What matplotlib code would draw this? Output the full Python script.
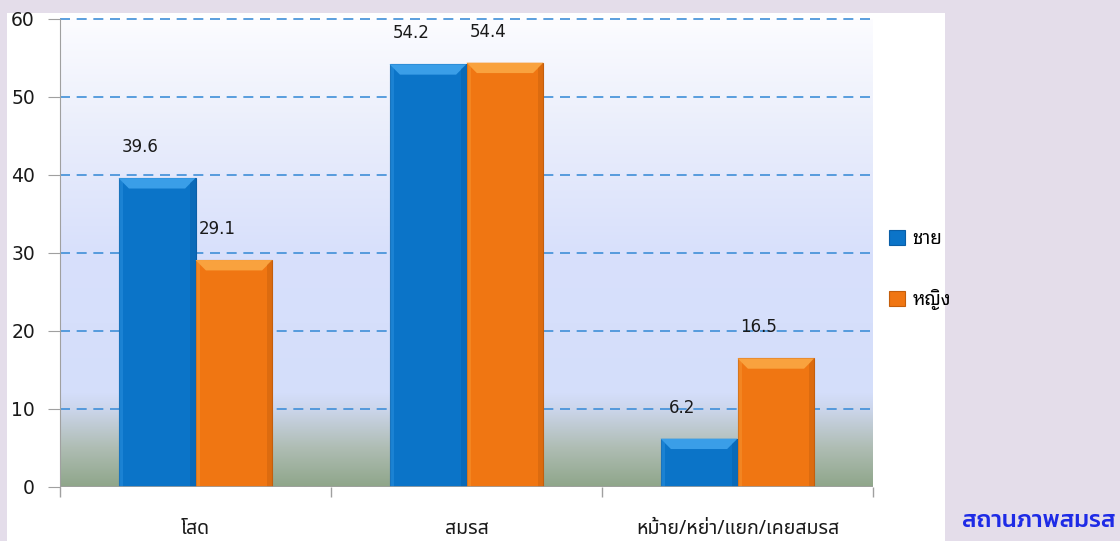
import numpy as np
import matplotlib
matplotlib.use("Agg")
import matplotlib.pyplot as plt
from matplotlib.patches import Rectangle, Polygon
from matplotlib.colors import to_rgb

# ---- data ----
categories = ["โสด", "สมรส", "หม้าย/หย่า/แยก/เคยสมรส"]
series_names = ["ชาย", "หญิง"]
male = [39.6, 54.2, 6.2]
female = [29.1, 54.4, 16.5]
yticks = [0, 10, 20, 30, 40, 50, 60]
title_text = "สถานภาพสมรส"

BLUE = "#0B74C8"
ORANGE = "#F07612"
BLUE_LIGHT = "#3A9EE8"
ORANGE_LIGHT = "#F9A23E"
BLUE_DARK = "#0A5EA6"
ORANGE_DARK = "#C45E0C"

W, H = 1120, 541
fig = plt.figure(figsize=(W / 100, H / 100), dpi=100)
fig.patch.set_facecolor("#E4DDEA")
# white chart panel
fig.patches.append(Rectangle((7 / W, 0), (945 - 7) / W, (H - 13) / H,
                             transform=fig.transFigure, facecolor="white",
                             edgecolor="none", zorder=-10))

ax = fig.add_axes([60 / W, (H - 487) / H, (873 - 60) / W, (487 - 19) / H])
ax.set_zorder(2)
ax.set_facecolor("none")

# gradient background
stops = [(60, "#FCFCFF"), (45, "#E9EDFB"), (30, "#D8E0FC"), (12, "#D4DEFA"),
         (10, "#CCD6EC"), (5, "#AFBDB4"), (0, "#8FA68A")]
vals = np.linspace(60, 0, 300)
sv = [s[0] for s in stops][::-1]
cols = np.array([to_rgb(s[1]) for s in stops])[::-1]
grad = np.stack([np.interp(vals, sv, cols[:, k]) for k in range(3)], axis=-1)
grad = grad[:, None, :]
ax.imshow(grad, extent=[-0.5, 2.5, 0, 60], aspect="auto", zorder=0,
          interpolation="bilinear")

x = np.arange(len(categories))
bw = 0.284
b1 = ax.bar(x - bw / 2, male, bw, color=BLUE, edgecolor=BLUE_DARK, linewidth=0.8,
            zorder=3, label=series_names[0])
b2 = ax.bar(x + bw / 2, female, bw, color=ORANGE, edgecolor=ORANGE_DARK, linewidth=0.8,
            zorder=3, label=series_names[1])

ax.set_xlim(-0.5, 2.5)
ax.set_ylim(0, 60)

# bevel effect derived from bar geometry
fig.canvas.draw()
inv = ax.transData.inverted()
px_x = abs(inv.transform((8, 0))[0] - inv.transform((0, 0))[0])
px_y = abs(inv.transform((0, 8))[1] - inv.transform((0, 0))[1])
for bars, light, dark in [(b1, BLUE_LIGHT, BLUE_DARK), (b2, ORANGE_LIGHT, ORANGE_DARK)]:
    for p in bars:
        x0, w, h = p.get_x(), p.get_width(), p.get_height()
        dy = min(px_y * 1.3, h / 2)
        dx = px_x * 1.3
        ax.add_patch(Polygon([(x0, h), (x0 + w, h), (x0 + w - dx, h - dy), (x0 + dx, h - dy)],
                             closed=True, facecolor=light, edgecolor="none", zorder=4))
        ax.add_patch(Polygon([(x0 + w, h), (x0 + w, 0), (x0 + w - dx * 0.5, 0), (x0 + w - dx * 0.5, h - dy * 0.5)],
                             closed=True, facecolor=dark, edgecolor="none", alpha=0.45, zorder=4))
        ax.add_patch(Polygon([(x0, h), (x0, 0), (x0 + dx * 0.4, 0), (x0 + dx * 0.4, h - dy * 0.4)],
                             closed=True, facecolor=light, edgecolor="none", alpha=0.35, zorder=4))

# value labels
for bars, vals_ in [(b1, male), (b2, female)]:
    for p, v in zip(bars, vals_):
        ax.annotate(f"{v:.1f}", (p.get_x() + p.get_width() / 2, v),
                    xytext=(-17, 31), textcoords="offset pixels",
                    ha="center", va="center", fontsize=12, color="#1A1A1A",
                    family=["DejaVu Sans"], zorder=6)

# grid
ax.set_yticks(yticks)
ax.yaxis.grid(True, linestyle=(0, (6, 4)), color="#3F8FD8", linewidth=1.2, zorder=1)
gls = ax.yaxis.get_gridlines()
for gl in gls:
    gl.set_clip_on(False)
gls[0].set_visible(False)
ax.set_axisbelow(True)
for s in ["top", "right", "bottom"]:
    ax.spines[s].set_visible(False)
ax.spines["left"].set_color("#A0A0A0")
ax.spines["left"].set_zorder(5)
ax.axhline(0, color="#A0A0A0", linewidth=1.2, zorder=5)

ax.tick_params(axis="y", length=9, color="#A0A0A0", labelsize=13.5, pad=9,
               labelcolor="#1A1A1A")
for lab in ax.get_yticklabels():
    lab.set_family(["DejaVu Sans"])

ax.set_xticks(x)
ax.set_xticklabels(categories, family=["Noto Sans Thai", "DejaVu Sans"], fontsize=14,
                   color="#1A1A1A")
ax.tick_params(axis="x", length=0, pad=23)
ax.set_xticks(np.arange(len(categories) + 1) - 0.5, minor=True)
ax.tick_params(axis="x", which="minor", length=7, color="#A0A0A0", width=1)

leg = ax.legend(loc="center left", bbox_to_anchor=(872 / W, (H - 270) / H),
                bbox_transform=fig.transFigure, frameon=False,
                prop={"family": ["Noto Sans Thai Looped", "DejaVu Sans"], "size": 13.5},
                handlelength=0.85, handleheight=0.85, handletextpad=0.4,
                labelspacing=2.2)

fig.text(1116 / W, (H - 521) / H, title_text, ha="right", va="center",
         fontsize=17, fontweight="medium", color="#1E2BE6",
         family=["Kanit", "DejaVu Sans"])

fig.savefig("out.png", dpi=100, facecolor=fig.get_facecolor())
